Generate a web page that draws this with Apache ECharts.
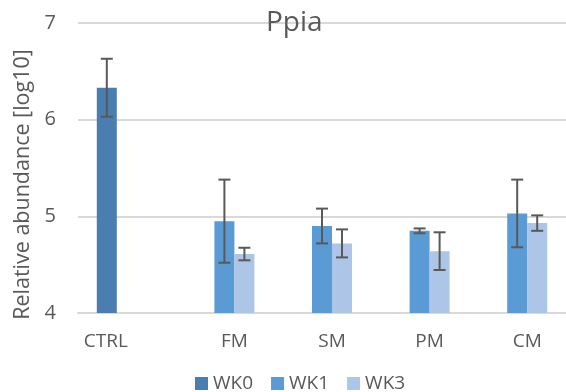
<!DOCTYPE html>
<html>
<head>
<meta charset="utf-8">
<script src="https://cdn.jsdelivr.net/npm/echarts@6/dist/echarts.min.js"></script>
<style>
  html, body { margin: 0; padding: 0; background: #fff; }
  #main { width: 566px; height: 392px; }
</style>
</head>
<body>
<div id="main"></div>
<script>
// data
var categories = ['CTRL', 'FM', 'SM', 'PM', 'CM'];
var seriesNames = ['WK0', 'WK1', 'WK3'];
var wk0 = [6.33, null, null, null, null];
var wk1 = [null, 4.95, 4.90, 4.85, 5.03];
var wk3 = [null, 4.61, 4.72, 4.64, 4.93];
var wk0Err = [0.30, null, null, null, null];
var wk1Err = [null, 0.43, 0.18, 0.025, 0.35];
var wk3Err = [null, 0.065, 0.145, 0.195, 0.08];
var yTicks = [4, 5, 6, 7];

var dom = document.getElementById('main');
var myChart = echarts.init(dom, null, { renderer: 'canvas' });

var font = 'Open Sans';
var textColor = '#595959';
var colors = ['#4a7db0', '#5b9bd5', '#adc6e7'];
var barW = 20;

// error bar data: [categoryIndex, low, high]
function errData(vals, errs) {
  var out = [];
  vals.forEach(function (v, i) {
    if (v != null && errs[i] != null) out.push([i, v - errs[i], v + errs[i]]);
  });
  return out;
}

function errSeries(vals, errs, offset) {
  return {
    type: 'custom',
    data: errData(vals, errs),
    encode: { x: 0, y: [1, 2] },
    z: 10,
    silent: true,
    renderItem: function (params, api) {
      var lo = api.coord([api.value(0), api.value(1)]);
      var hi = api.coord([api.value(0), api.value(2)]);
      var x = lo[0] + offset;
      var cap = 6;
      var st = { stroke: '#595959', lineWidth: 2 };
      return {
        type: 'group',
        children: [
          { type: 'line', shape: { x1: x, y1: lo[1], x2: x, y2: hi[1] }, style: st },
          { type: 'line', shape: { x1: x - cap, y1: lo[1], x2: x + cap, y2: lo[1] }, style: st },
          { type: 'line', shape: { x1: x - cap, y1: hi[1], x2: x + cap, y2: hi[1] }, style: st }
        ]
      };
    }
  };
}

function barSeries(name, vals, color) {
  return {
    name: name,
    type: 'bar',
    data: vals,
    barWidth: barW,
    barGap: '0%',
    itemStyle: { color: color },
    emphasis: { disabled: true }
  };
}

var option = {
  animation: false,
  textStyle: { fontFamily: font },
  title: {
    text: 'Ppia',
    left: 261,
    top: 4,
    textStyle: { fontFamily: font, fontSize: 28, fontWeight: 'normal', color: textColor }
  },
  legend: {
    data: seriesNames,
    left: 190,
    top: 369,
    icon: 'rect',
    itemWidth: 13,
    itemHeight: 13,
    itemGap: 18,
    textStyle: { fontFamily: font, fontSize: 19, color: textColor }
  },
  grid: { left: 78, right: -10, top: 23, bottom: 79 },
  xAxis: {
    type: 'category',
    data: categories,
    axisLine: { lineStyle: { color: '#d9d9d9', width: 2 } },
    axisTick: { show: false },
    axisLabel: {
      interval: 0,
      hideOverlap: false,
      margin: 19,
      fontFamily: font,
      fontSize: 19,
      color: textColor,
      // shift labels the way the source chart places them
      formatter: function (v) {
        return v === 'CTRL' ? '{c|' + v + '}' : '{o|' + v + '}';
      },
      rich: {
        c: { padding: [0, 42, 0, 0], fontFamily: font, fontSize: 19, color: textColor },
        o: { padding: [0, 0, 0, 20], fontFamily: font, fontSize: 19, color: textColor }
      }
    }
  },
  yAxis: {
    type: 'value',
    min: yTicks[0],
    max: yTicks[yTicks.length - 1],
    interval: 1,
    name: 'Relative abundance [log10]',
    nameLocation: 'middle',
    nameGap: 41,
    nameTextStyle: { fontFamily: font, fontSize: 21.5, color: textColor, padding: [0, 33, 0, 0] },
    axisLine: { show: false },
    axisTick: { show: false },
    axisLabel: { margin: 22, fontFamily: font, fontSize: 20, color: textColor },
    splitLine: { lineStyle: { color: '#d9d9d9', width: 2 } }
  },
  series: [
    barSeries('WK0', wk0, colors[0]),
    barSeries('WK1', wk1, colors[1]),
    barSeries('WK3', wk3, colors[2]),
    errSeries(wk0, wk0Err, -barW),
    errSeries(wk1, wk1Err, 0),
    errSeries(wk3, wk3Err, barW)
  ]
};

myChart.setOption(option);
window.addEventListener('resize', myChart.resize);
</script>
</body>
</html>
